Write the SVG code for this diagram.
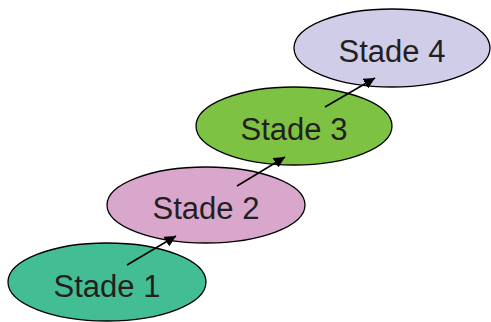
<svg xmlns="http://www.w3.org/2000/svg" width="491" height="322" viewBox="0 0 491 322">
  <defs>
    <marker id="arrowhead" viewBox="0 0 10 10" refX="10" refY="5" markerWidth="7" markerHeight="7" markerUnits="strokeWidth" orient="auto">
      <path d="M0,0 L10,5 L0,10 Z" fill="#000"/>
    </marker>
    <style>
      .stage { stroke: #000; stroke-width: 1.3; }
      .label { font-family: "Liberation Sans", Arial, sans-serif; font-size: 31px; fill: #231f20; text-anchor: middle; }
      .link { stroke: #000; stroke-width: 1.6; fill: none; marker-end: url(#arrowhead); }
    </style>
  </defs>

  <g id="stade1">
    <ellipse class="stage" cx="107" cy="282" rx="99" ry="39" fill="#43bd93"/>
    <text class="label" x="107" y="297">Stade 1</text>
  </g>
  <g id="stade2">
    <ellipse class="stage" cx="206" cy="205" rx="99" ry="38" fill="#d9a6cc"/>
    <text class="label" x="206" y="219">Stade 2</text>
  </g>
  <g id="stade3">
    <ellipse class="stage" cx="294" cy="126" rx="98" ry="39" fill="#7dc242"/>
    <text class="label" x="294" y="140">Stade 3</text>
  </g>
  <g id="stade4">
    <ellipse class="stage" cx="392" cy="48" rx="98" ry="39" fill="#cfcde8"/>
    <text class="label" x="392" y="62">Stade 4</text>
  </g>

  <g id="connectors">
    <line class="link" x1="127" y1="265" x2="176" y2="236"/>
    <line class="link" x1="237" y1="186" x2="285" y2="157"/>
    <line class="link" x1="325" y1="107" x2="375" y2="78"/>
  </g>
</svg>
